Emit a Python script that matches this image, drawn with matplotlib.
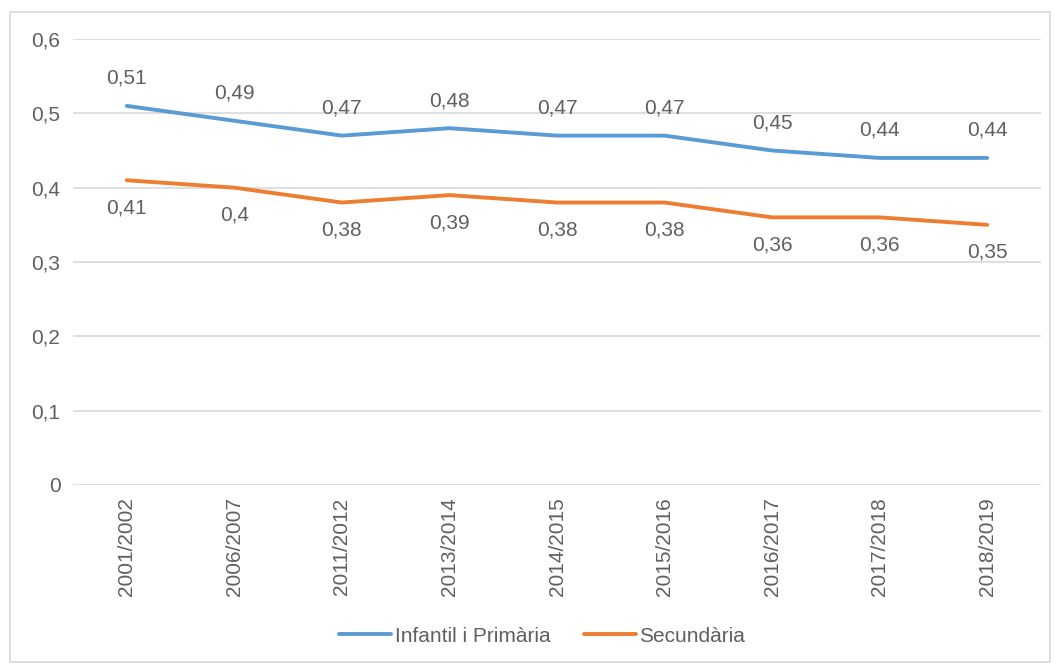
import matplotlib
matplotlib.use("Agg")
import matplotlib.pyplot as plt
from matplotlib.patches import Rectangle

categories = ["2001/2002", "2006/2007", "2011/2012", "2013/2014", "2014/2015",
              "2015/2016", "2016/2017", "2017/2018", "2018/2019"]
infantil = [0.51, 0.49, 0.47, 0.48, 0.47, 0.47, 0.45, 0.44, 0.44]
secundaria = [0.41, 0.40, 0.38, 0.39, 0.38, 0.38, 0.36, 0.36, 0.35]
yticks = [0, 0.1, 0.2, 0.3, 0.4, 0.5, 0.6]

plt.rcParams['font.family'] = ['Liberation Sans', 'DejaVu Sans']
txt = '#606060'
blue = '#5B9BD5'
orange = '#ED7D31'
fs = 15

fig = plt.figure(figsize=(10.6, 6.68), dpi=100)
fig.patches.append(Rectangle((10/1060, 1 - 662/668), 1040/1060, 650/668,
                             transform=fig.transFigure, fill=False,
                             edgecolor='#D9D9D9', linewidth=1.2))
ax = fig.add_axes([73/1060, 1 - 485/668, 968/1060, 446/668])

x = list(range(len(categories)))
ax.plot(x, infantil, color=blue, linewidth=2.8, solid_capstyle='round', label='Infantil i Primària')
ax.plot(x, secundaria, color=orange, linewidth=2.8, solid_capstyle='round', label='Secundària')

def fmt(v):
    s = ('%.2f' % v).rstrip('0').rstrip('.')
    return s.replace('.', ',')

for xi, v in zip(x, infantil):
    ax.annotate(fmt(v), (xi, v), xytext=(0, 13), textcoords='offset points',
                ha='center', va='bottom', fontsize=fs, color=txt)
for xi, v in zip(x, secundaria):
    ax.annotate(fmt(v), (xi, v), xytext=(0, -13), textcoords='offset points',
                ha='center', va='top', fontsize=fs, color=txt)

ax.set_xlim(-0.5, len(categories) - 0.5)
ax.set_ylim(0, 0.6)
ax.set_yticks(yticks)
ax.set_yticklabels([fmt(t) if t != 0 else '0' for t in yticks])
ax.set_xticks(x)
ax.set_xticklabels(categories, rotation=90)
ax.tick_params(axis='both', length=0, labelsize=fs, labelcolor=txt)
ax.tick_params(axis='y', pad=9)
ax.tick_params(axis='x', pad=9)
ax.grid(axis='y', color='#D9D9D9', linewidth=1.2)
ax.set_axisbelow(True)
for s in ax.spines.values():
    s.set_visible(False)

ax.legend(loc='center', bbox_to_anchor=((542 - 73) / 968, (1 - 636/668 - (1 - 485/668)) / (446/668)),
          bbox_transform=ax.transAxes, ncol=2, frameon=False, fontsize=fs,
          labelcolor=txt, handlelength=2.5, handletextpad=0.15, columnspacing=1.6)

fig.savefig('out.png', dpi=100)
